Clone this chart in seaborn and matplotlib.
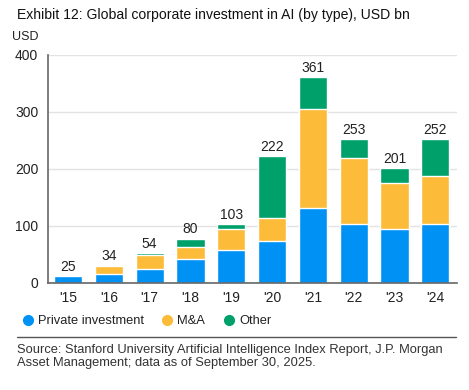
import matplotlib
matplotlib.use("Agg")
import matplotlib.pyplot as plt
from matplotlib.lines import Line2D
import pandas as pd
import seaborn as sns

YEARS = ["'15", "'16", "'17", "'18", "'19", "'20", "'21", "'22", "'23", "'24"]
PRIVATE = [12, 16, 24, 42, 58, 74, 132, 104, 95, 104]
MNA = [0, 13, 25, 21, 37, 40, 174, 116, 81, 83]
OTHER = [0, 3, 3, 15, 8, 108, 55, 33, 25, 65]
TOTAL_LABELS = ["25", "34", "54", "80", "103", "222", "361", "253", "201", "252"]

COLORS = {
    "Private investment": "#0091F5",
    "M&A": "#FDBB3A",
    "Other": "#00A06A",
}

sns.set_style("white")
plt.rcParams["font.family"] = ["Liberation Sans", "DejaVu Sans"]
plt.rcParams["text.color"] = "#222222"

frame = pd.DataFrame({
    "year": YEARS,
    "private": PRIVATE,
    "mna": MNA,
    "other": OTHER,
})
frame["lvl2"] = frame["private"] + frame["mna"]
frame["lvl3"] = frame["lvl2"] + frame["other"]

fig = plt.figure(figsize=(4.69, 3.90), dpi=100)
ax = fig.add_axes([48 / 469, 1 - 283 / 390, (457 - 48) / 469, (283 - 55) / 390])

# stacked bars drawn as overlapping cumulative layers
for col, name in [("lvl3", "Other"), ("lvl2", "M&A"), ("private", "Private investment")]:
    sns.barplot(
        data=frame, x="year", y=col, order=YEARS, color=COLORS[name],
        saturation=1, width=0.69, edgecolor="white", linewidth=1.0, ax=ax,
    )

for i, (top, label) in enumerate(zip(frame["lvl3"], TOTAL_LABELS)):
    ax.annotate(label, xy=(i, top), xytext=(0, 1.5), textcoords="offset points",
                ha="center", va="bottom", fontsize=10, color="#222222")

ax.set_xlim(-0.49, 9.53)
ax.set_ylim(0, 400)
ax.set_yticks([0, 100, 200, 300, 400])
ax.set_xlabel("")
ax.set_ylabel("")
ax.yaxis.grid(True, color="#e3e3e3", linewidth=1.0)
ax.set_axisbelow(True)
for side in ["top", "right"]:
    ax.spines[side].set_visible(False)
for side in ["left", "bottom"]:
    ax.spines[side].set_color("#666666")
    ax.spines[side].set_linewidth(1.2)
ax.tick_params(axis="both", length=0, labelsize=10, colors="#222222")
ax.tick_params(axis="x", pad=6)
ax.tick_params(axis="y", pad=7)

fig.text(17 / 469, 1 - 15 / 390, "Exhibit 12: Global corporate investment in AI (by type), USD bn",
         fontsize=10.1, va="center", ha="left", color="#111111")
fig.text(12 / 469, 1 - 37 / 390, "USD", fontsize=9, va="center", ha="left")

handles = [
    Line2D([], [], marker="o", linestyle="", markersize=7, color=COLORS[n], label=n)
    for n in ["Private investment", "M&A", "Other"]
]
fig.legend(handles=handles, loc="center left", bbox_to_anchor=(12 / 469, 1 - 321 / 390),
           ncol=3, frameon=False, fontsize=9.3, handletextpad=0.3, columnspacing=1.3,
           handlelength=1.0, borderpad=0.2)

fig.add_artist(Line2D([17 / 469, 456 / 469], [1 - 337 / 390] * 2, color="#555555",
                      linewidth=1.0, transform=fig.transFigure))

fig.text(17 / 469, 1 - 344 / 390,
         "Source: Stanford University Artificial Intelligence Index Report, J.P. Morgan\n"
         "Asset Management; data as of September 30, 2025.",
         fontsize=9.3, va="top", ha="left", linespacing=1.15, color="#333333")

fig.savefig("out.png", dpi=100)
